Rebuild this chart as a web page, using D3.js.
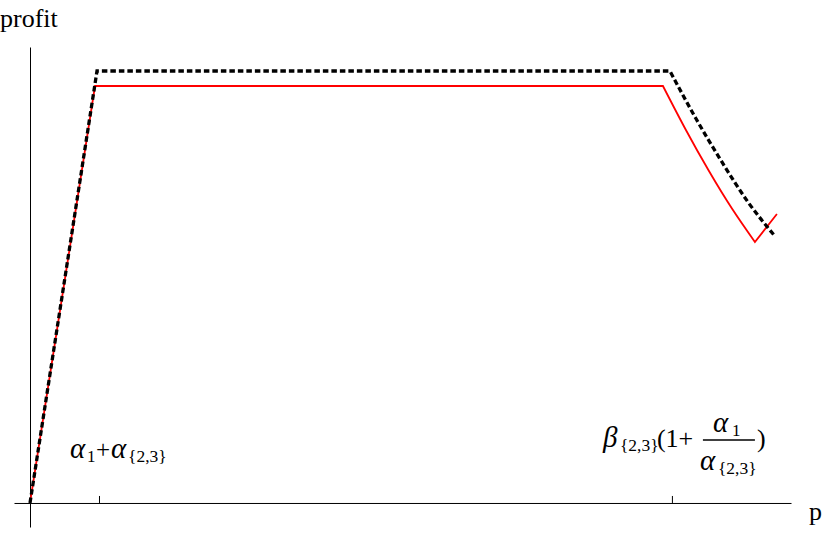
<!DOCTYPE html>
<html>
<head>
<meta charset="utf-8">
<script src="https://cdn.jsdelivr.net/npm/d3@7"></script>
<style>
  html, body { margin: 0; padding: 0; background: #fff; }
  svg { display: block; }
  text { font-family: "Liberation Serif", "DejaVu Serif", serif; fill: #000; }
</style>
</head>
<body>
<svg id="chart" width="823" height="545"></svg>
<script>
// ---- data (abstract units) ----
const xDomain = [-0.232, 11.03];
const yDomain = [-5.56, 105.56];

// black dashed series (first 3 points joined straight, rest a smooth curve)
const blackX = [0, 0.971, 9.275, 9.652, 10.029, 10.406, 10.783];
const blackY = [0, 100, 100, 89.00, 78.94, 69.68, 62.04];
const blackCurveStart = 2;

// red solid series (straight, curved descent, then straight rise)
const redX = [0, 0.942, 9.174, 9.507, 9.841, 10.174, 10.507, 10.826];
const redY = [0, 96.53, 96.53, 86.34, 76.85, 68.17, 60.42, 66.90];
const redCurveStart = 2;
const redCurveEnd = 6;

// x-axis ticks
const tickValues = [1, 9.304];
const xAxisLabel = "p";
const yAxisLabel = "profit";

// ---- drawing ----
const svg = d3.select("#chart");
const x = d3.scaleLinear().domain(xDomain).range([14, 791]);
const y = d3.scaleLinear().domain(yDomain).range([527, 47]);

const X0 = x(0), Y0 = y(0);

// axes
const xAxis = d3.axisBottom(x).tickValues(tickValues).tickSizeInner(-7).tickSizeOuter(0).tickFormat("");
const gx = svg.append("g").attr("transform", `translate(0,${Y0})`).call(xAxis);
gx.select(".domain").attr("stroke", "#000").attr("stroke-width", 1);
gx.selectAll(".tick line").attr("stroke", "#000").attr("stroke-width", 1);

const yAxis = d3.axisLeft(y).tickValues([]).tickSizeOuter(0);
const gy = svg.append("g").attr("transform", `translate(${X0},0)`).call(yAxis);
gy.select(".domain").attr("stroke", "#000").attr("stroke-width", 1);

// path builder: linear pieces + smooth curve piece, as one continuous path
function buildPath(pts, cStart, cEnd) {
  const lin = d3.line().x(d => x(d[0])).y(d => y(d[1]));
  const cur = d3.line().x(d => x(d[0])).y(d => y(d[1])).curve(d3.curveNatural);
  let d = lin(pts.slice(0, cStart + 1));
  const mid = cur(pts.slice(cStart, cEnd + 1));
  d += "L" + mid.slice(1);
  if (cEnd < pts.length - 1) {
    const tail = lin(pts.slice(cEnd));
    d += "L" + tail.slice(1);
  }
  return d;
}

const redData = redX.map((v, i) => [v, redY[i]]);
const blackData = blackX.map((v, i) => [v, blackY[i]]);

svg.append("path")
  .attr("d", buildPath(redData, redCurveStart, redCurveEnd)).attr("fill", "none")
  .attr("stroke", "#ff0000").attr("stroke-width", 1.8);

svg.append("path")
  .attr("d", buildPath(blackData, blackCurveStart, blackData.length - 1)).attr("fill", "none")
  .attr("stroke", "#000").attr("stroke-width", 3.3)
  .attr("stroke-dasharray", "5.5,3");

// axis labels
svg.append("text").attr("x", 0).attr("y", 27).attr("font-size", 26).text(yAxisLabel);
svg.append("text").attr("x", 809).attr("y", 520).attr("font-size", 26).text(xAxisLabel);

function put(txt, px, py, size, italic) {
  svg.append("text").attr("x", px).attr("y", py).attr("font-size", size)
    .attr("font-style", italic ? "italic" : "normal").text(txt);
}

// tick label 1: α1+α{2,3}
const ta = x(tickValues[0]);
put("α", ta - 29, 458, 29, true);
put("1", ta - 12, 462, 17, false);
put("+", ta - 3, 458, 25, false);
put("α", ta + 12, 458, 29, true);
put("{2,3}", ta + 29, 462, 17.5, false);

// tick label 2: β{2,3}(1+ α1/α{2,3})
const tb = x(tickValues[1]);
put("β", tb - 69, 447, 29, true);
put("{2,3}", tb - 52, 451, 17.5, false);
put("(1+", tb - 15, 447, 26, false);
put("α", tb + 41, 432, 29, true);
put("1", tb + 60, 436, 17, false);
svg.append("line").attr("x1", tb + 31).attr("x2", tb + 83)
  .attr("y1", 440).attr("y2", 440).attr("stroke", "#000").attr("stroke-width", 1.3);
put("α", tb + 28, 470, 29, true);
put("{2,3}", tb + 46, 474, 17.5, false);
put(")", tb + 85, 447, 26, false);
</script>
</body>
</html>
